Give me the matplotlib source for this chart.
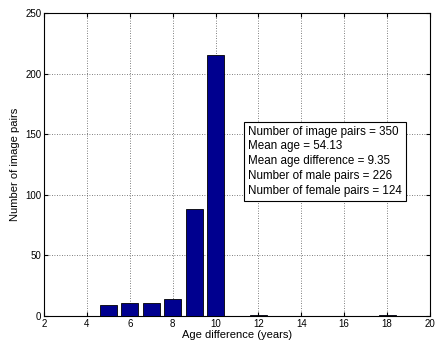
import matplotlib
matplotlib.use("Agg")
import matplotlib.pyplot as plt

# Age difference histogram data
age_diff = [5, 6, 7, 8, 9, 10, 12, 18]
pair_counts = [9, 11, 11, 14, 88, 215, 1, 1]

x_ticks = [2, 4, 6, 8, 10, 12, 14, 16, 18, 20]
y_ticks = [0, 50, 100, 150, 200, 250]

stats_lines = [
    "Number of image pairs = 350",
    "Mean age = 54.13",
    "Mean age difference = 9.35",
    "Number of male pairs = 226",
    "Number of female pairs = 124",
]

plt.rcParams["font.family"] = ["Liberation Sans", "DejaVu Sans"]

fig = plt.figure(figsize=(4.36, 3.43), dpi=100)
ax = fig.add_axes([44 / 436, 1 - 316 / 343, 386 / 436, 303 / 343])

ax.bar(
    age_diff,
    pair_counts,
    width=0.8,
    color="#00008f",
    edgecolor="black",
    linewidth=0.6,
    zorder=3,
)

ax.set_xlim(2, 20)
ax.set_ylim(0, 250)
ax.set_xticks(x_ticks)
ax.set_yticks(y_ticks)

ax.grid(True, linestyle=(0, (1, 2)), color="#555555", linewidth=0.6, zorder=0)
ax.tick_params(direction="in", top=True, right=True, labelsize=7, length=3, pad=2)
for spine in ax.spines.values():
    spine.set_linewidth(0.8)

ax.set_xlabel("Age difference (years)", fontsize=8, labelpad=1)
ax.set_ylabel("Number of image pairs", fontsize=8, labelpad=4)

ax.text(
    11.5,
    157,
    "\n".join(stats_lines),
    fontsize=8.4,
    va="top",
    ha="left",
    linespacing=1.3,
    zorder=5,
    bbox=dict(boxstyle="square,pad=0.35", facecolor="white", edgecolor="black", linewidth=0.8),
)

fig.savefig("out.png", dpi=100)
